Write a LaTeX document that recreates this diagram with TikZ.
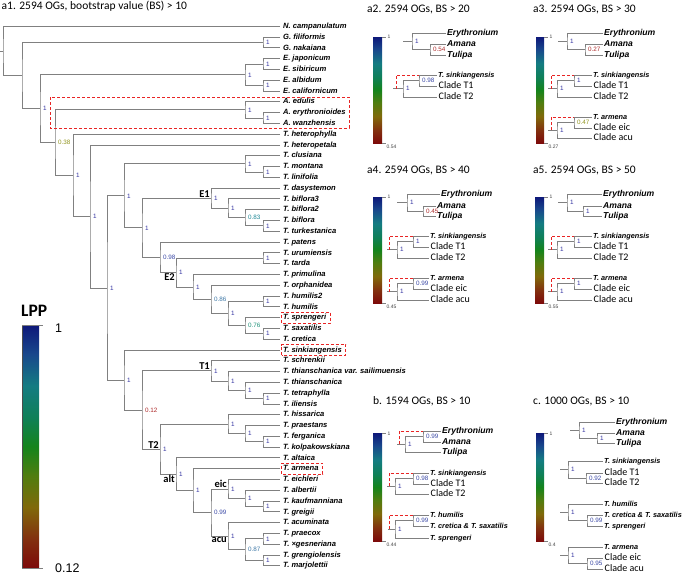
\documentclass[tikz,border=0pt]{standalone}
\usepackage{fontspec}
\setmainfont{Carlito}
\newfontfamily\arialfont{Liberation Sans}
\definecolor{brgray}{RGB}{128,128,128}
\definecolor{altred}{RGB}{232,36,36}
\definecolor{valone}{RGB}{50,50,160}
\definecolor{valhigh}{RGB}{58,72,165}
\definecolor{valmid}{RGB}{60,118,165}
\definecolor{valteal}{RGB}{30,135,150}
\definecolor{valgreen}{RGB}{30,145,120}
\definecolor{valolive}{RGB}{145,148,30}
\definecolor{vallow}{RGB}{172,40,40}
\definecolor{lppa}{RGB}{125,10,10}
\definecolor{lppb}{RGB}{130,48,15}
\definecolor{lppc}{RGB}{128,105,10}
\definecolor{lppd}{RGB}{80,125,15}
\definecolor{lppe}{RGB}{20,132,28}
\definecolor{lppf}{RGB}{15,128,88}
\definecolor{lppg}{RGB}{20,124,130}
\definecolor{lpph}{RGB}{25,72,140}
\definecolor{lppi}{RGB}{14,24,122}
\pgfdeclareverticalshading{lppshade}{100bp}{color(0bp)=(lppa); color(25bp)=(lppa); color(31bp)=(lppb); color(37.5bp)=(lppc); color(44bp)=(lppd); color(50bp)=(lppe); color(56bp)=(lppf); color(62.5bp)=(lppg); color(69bp)=(lpph); color(75bp)=(lppi); color(100bp)=(lppi)}
\begin{document}
\begin{tikzpicture}[x=1pt, y=-1pt,
    br/.style={draw=brgray, line width=1pt},
    altpath/.style={draw=altred, dash pattern=on 3pt off 2pt, line width=1pt},
    redbox/.style={draw=altred, dash pattern=on 3pt off 2pt, line width=1pt},
    leaf/.style={anchor=west, inner xsep=3pt, inner ysep=0.5pt, text height=5.8pt, text depth=1.6pt, font=\arialfont\bfseries\itshape\fontsize{7.6}{8}\selectfont},
    genus/.style={anchor=west, inner xsep=1pt, inner ysep=0.5pt, text height=6.4pt, text depth=1.8pt, font=\arialfont\bfseries\itshape\fontsize{8.6}{9}\selectfont},
    spc/.style={anchor=west, inner xsep=1pt, inner ysep=0.5pt, text height=5.5pt, text depth=1.5pt, font=\arialfont\bfseries\itshape\fontsize{7.3}{8}\selectfont},
    grp/.style={anchor=west, inner xsep=1.5pt, inner ysep=0.5pt, text height=6.6pt, text depth=1.6pt, font=\fontsize{10}{11}\selectfont},
    bs/.style={font=\arialfont\fontsize{6.3}{7}\selectfont, inner sep=0.5pt, xshift=2.5pt},
    clade/.style={font=\bfseries\fontsize{10.5}{12}\selectfont, inner sep=1pt},
    ttl/.style={anchor=base west, inner sep=0pt, font=\fontsize{11.5}{13}\selectfont},
    cbtick/.style={draw=gray, line width=0.8pt},
    ticklab/.style={anchor=west, inner sep=0.5pt, font=\arialfont\fontsize{5}{6}\selectfont, text=darkgray}]
  \useasboundingbox (0,0) rectangle (685,576);

  % a1: main tree
  \node[ttl] (ta1) at (1.5,9.5) {a1. 2594 OGs, bootstrap value (BS) > 10};
  \path[every node/.style=leaf]
    (280,26.3) node (ncam){N. campanulatum}
    (280,37.1) node (gfil){G. filiformis}
    (280,47.9) node (gnak){G. nakaiana}
    (280,58.7) node (ejap){E. japonicum}
    (280,69.5) node (esib){E. sibiricum}
    (280,80.2) node (ealb){E. albidum}
    (280,91.0) node (ecal){E. californicum}
    (280,101.8) node (aedu){A. edulis}
    (280,112.6) node (aery){A. erythronioides}
    (280,123.4) node (awan){A. wanzhensis}
    (280,134.2) node (thph){T. heterophylla}
    (280,145.0) node (thpt){T. heteropetala}
    (280,155.8) node (tclu){T. clusiana}
    (280,166.6) node (tmon){T. montana}
    (280,177.4) node (tlin){T. linifolia}
    (280,188.2) node (tdas){T. dasystemon}
    (280,198.9) node (tbi3){T. biflora3}
    (280,209.7) node (tbi2){T. biflora2}
    (280,220.5) node (tbif){T. biflora}
    (280,231.3) node (ttur){T. turkestanica}
    (280,242.1) node (tpat){T. patens}
    (280,252.9) node (turu){T. urumiensis}
    (280,263.7) node (ttar){T. tarda}
    (280,274.5) node (tpri){T. primulina}
    (280,285.3) node (torp){T. orphanidea}
    (280,296.1) node (thu2){T. humilis2}
    (280,306.9) node (thum){T. humilis}
    (280,317.6) node (tspr){T. sprengeri}
    (280,328.4) node (tsax){T. saxatilis}
    (280,339.2) node (tcre){T. cretica}
    (280,350.0) node (tsin){T. sinkiangensis}
    (280,360.8) node (tsch){T. schrenkii}
    (280,371.6) node (tthv){T. thianschanica var. sailimuensis}
    (280,382.4) node (tthi){T. thianschanica}
    (280,393.2) node (ttet){T. tetraphylla}
    (280,404.0) node (tili){T. iliensis}
    (280,414.8) node (thss){T. hissarica}
    (280,425.6) node (tpra){T. praestans}
    (280,436.3) node (tfer){T. ferganica}
    (280,447.1) node (tkol){T. kolpakowskiana}
    (280,457.9) node (talt){T. altaica}
    (280,468.7) node (tarm){T. armena}
    (280,479.5) node (teic){T. eichleri}
    (280,490.3) node (talb){T. albertii}
    (280,501.1) node (tkau){T. kaufmanniana}
    (280,511.9) node (tgre){T. greigii}
    (280,522.7) node (tacu){T. acuminata}
    (280,533.5) node (tpcx){T. praecox}
    (280,544.3) node (tges){T. ×gesneriana}
    (280,555.0) node (tgrg){T. grengiolensis}
    (280,565.8) node (tmar){T. marjolettii};

  \coordinate (rtstub) at (0,51.0);
  \coordinate (rt) at (3,51.0);
  \coordinate (n2) at (22,75.7);
  \coordinate[label={[bs,valone]right:1}] (gG) at (263,42.5);
  \coordinate[label={[bs,valone]right:1}] (n3) at (40,108.8);
  \coordinate[label={[bs,valone]right:1}] (eE) at (245,74.9);
  \coordinate[label={[bs,valone]right:1}] (e1) at (263,64.1);
  \coordinate[label={[bs,valone]right:1}] (e2) at (263,85.6);
  \coordinate[label={[bs,valolive]right:0.38}] (n4) at (55,142.7);
  \coordinate[label={[bs,valone]right:1}] (aA) at (245,109.9);
  \coordinate[label={[bs,valone]right:1}] (aEW) at (263,118.0);
  \coordinate[label={[bs,valone]right:1}] (n5) at (73,175.4);
  \coordinate[label={[bs,valone]right:1}] (n6) at (90,216.5);
  \coordinate[label={[bs,valone]right:1}] (n7) at (107,288.0);
  \coordinate[label={[bs,valone]right:1}] (n8) at (124,195.9);
  \coordinate[label={[bs,valone]right:1}] (cC) at (245,163.9);
  \coordinate[label={[bs,valone]right:1}] (cMl) at (263,172.0);
  \coordinate[label={[bs,valone]right:1}] (nEm) at (142,227.9);
  \coordinate[label={[bs,valone]right:1}] (E1) at (211,198.3);
  \coordinate[label={[bs,valone]right:1}] (b3) at (228,208.4);
  \coordinate[label={[bs,valteal]right:0.83}] (b2) at (245,217.8);
  \coordinate[label={[bs,valone]right:1}] (b2t) at (263,225.9);
  \coordinate[label={[bs,valhigh]right:0.98}] (pE2) at (160,257.4);
  \coordinate[label={[bs,valone]right:1}] (ut) at (263,258.3);
  \coordinate[label={[bs,valone]right:1}] (E2) at (176,272.6);
  \coordinate[label={[bs,valone]right:1}] (pr) at (193,287.0);
  \coordinate[label={[bs,valmid]right:0.86}] (orp) at (211,299.5);
  \coordinate[label={[bs,valone]right:1}] (hh) at (263,301.5);
  \coordinate[label={[bs,valone]right:1}] (hu) at (228,313.6);
  \coordinate[label={[bs,valgreen]right:0.76}] (sp) at (245,325.7);
  \coordinate[label={[bs,valone]right:1}] (sc) at (263,333.8);
  \coordinate[label={[bs,valone]right:1}] (nT) at (124,380.1);
  \coordinate[label={[bs,vallow]right:0.12}] (tm) at (142,410.1);
  \coordinate[label={[bs,valone]right:1}] (T1) at (211,370.9);
  \coordinate[label={[bs,valone]right:1}] (tv) at (228,381.0);
  \coordinate[label={[bs,valone]right:1}] (tt) at (245,390.5);
  \coordinate[label={[bs,valone]right:1}] (ti) at (263,398.6);
  \coordinate[label={[bs,valone]right:1}] (T2) at (160,449.3);
  \coordinate[label={[bs,valone]right:1}] (hs) at (228,424.2);
  \coordinate[label={[bs,valone]right:1}] (pf) at (245,433.7);
  \coordinate[label={[bs,valone]right:1}] (fk) at (263,441.7);
  \coordinate[label={[bs,valone]right:1}] (alt) at (176,474.3);
  \coordinate[label={[bs,valone]right:1}] (ar) at (193,490.7);
  \coordinate[label={[bs,valhigh]right:0.99}] (ea) at (211,512.6);
  \coordinate[label={[bs,valone]right:1}] (eic) at (228,489.0);
  \coordinate[label={[bs,valone]right:1}] (ak) at (245,498.4);
  \coordinate[label={[bs,valone]right:1}] (kg) at (263,506.5);
  \coordinate[label={[bs,valone]right:1}] (acu) at (228,536.2);
  \coordinate[label={[bs,valmid]right:0.87}] (pm) at (245,549.7);
  \coordinate[label={[bs,valone]right:1}] (pg) at (263,538.9);
  \coordinate[label={[bs,valone]right:1}] (gm) at (263,560.4);

  \begin{scope}[br]
    \draw (rtstub) -- (rt);
    \draw (ncam.west) -| (rt) |- (n2);
    \draw (gG) -| (n2) |- (n3);
    \draw (gfil.west) -| (gG) |- (gnak.west);
    \draw (eE) -| (n3) |- (n4);
    \draw (e1) -| (eE) |- (e2);
    \draw (ejap.west) -| (e1) |- (esib.west);
    \draw (ealb.west) -| (e2) |- (ecal.west);
    \draw (aA) -| (n4) |- (n5);
    \draw (aedu.west) -| (aA) |- (aEW);
    \draw (aery.west) -| (aEW) |- (awan.west);
    \draw (thph.west) -| (n5) |- (n6);
    \draw (thpt.west) -| (n6) |- (n7);
    \draw (n8) -| (n7) |- (nT);
    \draw (cC) -| (n8) |- (nEm);
    \draw (tclu.west) -| (cC) |- (cMl);
    \draw (tmon.west) -| (cMl) |- (tlin.west);
    \draw (E1) -| (nEm) |- (pE2);
    \draw (tdas.west) -| (E1) |- (b3);
    \draw (tbi3.west) -| (b3) |- (b2);
    \draw (tbi2.west) -| (b2) |- (b2t);
    \draw (tbif.west) -| (b2t) |- (ttur.west);
    \draw (tpat.west) -| (pE2) |- (E2);
    \draw (ut) -| (E2) |- (pr);
    \draw (turu.west) -| (ut) |- (ttar.west);
    \draw (tpri.west) -| (pr) |- (orp);
    \draw (torp.west) -| (orp) |- (hu);
    \draw (hh) -| (hu) |- (sp);
    \draw (thu2.west) -| (hh) |- (thum.west);
    \draw (tspr.west) -| (sp) |- (sc);
    \draw (tsax.west) -| (sc) |- (tcre.west);
    \draw (tsin.west) -| (nT) |- (tm);
    \draw (T1) -| (tm) |- (T2);
    \draw (tsch.west) -| (T1) |- (tv);
    \draw (tthv.west) -| (tv) |- (tt);
    \draw (tthi.west) -| (tt) |- (ti);
    \draw (ttet.west) -| (ti) |- (tili.west);
    \draw (hs) -| (T2) |- (alt);
    \draw (thss.west) -| (hs) |- (pf);
    \draw (tpra.west) -| (pf) |- (fk);
    \draw (tfer.west) -| (fk) |- (tkol.west);
    \draw (talt.west) -| (alt) |- (ar);
    \draw (tarm.west) -| (ar) |- (ea);
    \draw (eic) -| (ea) |- (acu);
    \draw (teic.west) -| (eic) |- (ak);
    \draw (talb.west) -| (ak) |- (kg);
    \draw (tkau.west) -| (kg) |- (tgre.west);
    \draw (tacu.west) -| (acu) |- (pm);
    \draw (pg) -| (pm) |- (gm);
    \draw (tpcx.west) -| (pg) |- (tges.west);
    \draw (tgrg.west) -| (gm) |- (tmar.west);
  \end{scope}

  \node[clade, anchor=south east] (lE1) at (E1) {E1};
  \node[clade, anchor=north east] (lE2) at (E2) {E2};
  \node[clade, anchor=south east] (lT1) at (T1) {T1};
  \node[clade, anchor=south east] (lT2) at (T2) {T2};
  \node[clade, anchor=north east] (lalt) at (alt) {alt};
  \node[clade, anchor=south east] (leic) at (eic) {eic};
  \node[clade, anchor=north east] (lacu) at (acu) {acu};

  \draw[redbox] (50,97) rectangle (349,128);
  \draw[redbox] ([xshift=1.5pt,yshift=-1pt]tspr.south west) rectangle ([xshift=1pt,yshift=1pt]tspr.north east);
  \draw[redbox] ([xshift=1.5pt,yshift=-1pt]tsin.south west) rectangle ([xshift=1pt,yshift=1pt]tsin.north east);
  \draw[redbox] ([xshift=1.5pt,yshift=-1pt]tarm.south west) rectangle ([xshift=1pt,yshift=1pt]tarm.north east);

  \node[anchor=base west, inner sep=0pt, font=\bfseries\fontsize{17.5}{18}\selectfont] (lpp) at (21,316.5) {LPP};
  \shade[shading=lppshade] (22,325) rectangle (39,568);
  \draw[gray!60!black, line width=0.8pt] (22,325) -- (22,568);
  \draw[cbtick] (22,325) -- (43,325) (22,568) -- (43,568);
  \node[anchor=west, inner sep=0pt, font=\arialfont\fontsize{12.5}{13}\selectfont] (lpphi) at (55,328) {1};
  \node[anchor=west, inner sep=0pt, font=\arialfont\fontsize{12.5}{13}\selectfont] (lpplo) at (55,568) {0.12};

  % a2
  \node[ttl] (ta2) at (367,12) {a2. 2594 OGs, BS > 20};
  \shade[shading=lppshade] (373,37) rectangle (382,143);
  \draw[cbtick] (382,37) -- (386,37) (382,143) -- (386,143);
  \node[ticklab] (a2hi) at (387,37) {1};
  \node[ticklab] (a2lo) at (386,147) {0.54};
  \path[every node/.style=genus]
    (446,33) node (a2ery){Erythronium}
    (446,44) node (a2ama){Amana}
    (446,55) node (a2tul){Tulipa};
  \coordinate (a2r1) at (403,41.3);
  \coordinate[label={[bs,valone]right:1}] (a2A1) at (412,41.3);
  \coordinate[label={[bs,vallow]right:0.54}] (a2B1) at (430,49.5);
  \draw[br] (a2r1) -- (a2A1);
  \draw[br] (a2ery.west) -| (a2A1) |- (a2B1);
  \draw[br] (a2ama.west) -| (a2B1) |- (a2tul.west);
  \path (437,75) node[spc] (a2sin){T. sinkiangensis}
    (437,86) node[grp] (a2t1){Clade T1}
    (437,97) node[grp] (a2t2){Clade T2};
  \coordinate (a2r2) at (393,88.8);
  \coordinate (a2d2) at (396,88.8);
  \coordinate[label={[bs,valone]right:1}] (a2A2) at (403,88.8);
  \coordinate[label={[bs,valhigh]right:0.98}] (a2B2) at (419,80.5);
  \draw[br] (a2r2) -- (a2A2);
  \draw[br] (a2B2) -| (a2A2) |- (a2t2.west);
  \draw[br] (a2sin.west) -| (a2B2) |- (a2t1.west);
  \draw[altpath] (a2d2) |- (a2B2 |- a2sin.west);

  % a3
  \node[ttl] (ta3) at (533,12) {a3. 2594 OGs, BS > 30};
  \shade[shading=lppshade] (536,37) rectangle (544,143);
  \draw[cbtick] (544,37) -- (548,37) (544,143) -- (548,143);
  \node[ticklab] (a3hi) at (549,37) {1};
  \node[ticklab] (a3lo) at (548,147) {0.27};
  \path[every node/.style=genus]
    (603,33) node (a3ery){Erythronium}
    (603,44) node (a3ama){Amana}
    (603,55) node (a3tul){Tulipa};
  \coordinate (a3r1) at (558,41.3);
  \coordinate[label={[bs,valone]right:1}] (a3A1) at (567,41.3);
  \coordinate[label={[bs,vallow]right:0.27}] (a3B1) at (585,49.5);
  \draw[br] (a3r1) -- (a3A1);
  \draw[br] (a3ery.west) -| (a3A1) |- (a3B1);
  \draw[br] (a3ama.west) -| (a3B1) |- (a3tul.west);
  \path (592,75) node[spc] (a3sin){T. sinkiangensis}
    (592,86) node[grp] (a3t1){Clade T1}
    (592,97) node[grp] (a3t2){Clade T2};
  \coordinate (a3r2) at (548,88.8);
  \coordinate (a3d2) at (551,88.8);
  \coordinate[label={[bs,valone]right:1}] (a3A2) at (557,88.8);
  \coordinate[label={[bs,valone]right:1}] (a3B2) at (574,80.5);
  \draw[br] (a3r2) -- (a3A2);
  \draw[br] (a3B2) -| (a3A2) |- (a3t2.west);
  \draw[br] (a3sin.west) -| (a3B2) |- (a3t1.west);
  \draw[altpath] (a3d2) |- (a3B2 |- a3sin.west);
  \path (592,117) node[spc] (a3arm){T. armena}
    (592,128) node[grp] (a3eic){Clade eic}
    (592,138) node[grp] (a3acu){Clade acu};
  \coordinate (a3r3) at (548,130.3);
  \coordinate (a3d3) at (551,130.3);
  \coordinate[label={[bs,valone]right:1}] (a3A3) at (557,130.3);
  \coordinate[label={[bs,valolive]right:0.47}] (a3B3) at (574,122.5);
  \draw[br] (a3r3) -- (a3A3);
  \draw[br] (a3B3) -| (a3A3) |- (a3acu.west);
  \draw[br] (a3arm.west) -| (a3B3) |- (a3eic.west);
  \draw[altpath] (a3d3) |- (a3B3 |- a3arm.west);

  % a4
  \node[ttl] (ta4) at (367,173) {a4. 2594 OGs, BS > 40};
  \shade[shading=lppshade] (373,197) rectangle (382,303);
  \draw[cbtick] (382,197) -- (386,197) (382,303) -- (386,303);
  \node[ticklab] (a4hi) at (387,197) {1};
  \node[ticklab] (a4lo) at (386,307) {0.45};
  \path[every node/.style=genus]
    (440,194) node (a4ery){Erythronium}
    (436,206) node (a4ama){Amana}
    (436,216) node (a4tul){Tulipa};
  \coordinate (a4r1) at (397,202.5);
  \coordinate[label={[bs,valone]right:1}] (a4A1) at (407,202.5);
  \coordinate[label={[bs,vallow]right:0.45}] (a4B1) at (423,211);
  \draw[br] (a4r1) -- (a4A1);
  \draw[br] (a4ery.west) -| (a4A1) |- (a4B1);
  \draw[br] (a4ama.west) -| (a4B1) |- (a4tul.west);
  \path (429,236) node[spc] (a4sin){T. sinkiangensis}
    (429,247) node[grp] (a4t1){Clade T1}
    (429,258) node[grp] (a4t2){Clade T2};
  \coordinate (a4r2) at (387,249.8);
  \coordinate (a4d2) at (389,249.8);
  \coordinate[label={[bs,valone]right:1}] (a4A2) at (397,249.8);
  \coordinate[label={[bs,valone]right:1}] (a4B2) at (413,241.5);
  \draw[br] (a4r2) -- (a4A2);
  \draw[br] (a4B2) -| (a4A2) |- (a4t2.west);
  \draw[br] (a4sin.west) -| (a4B2) |- (a4t1.west);
  \draw[altpath] (a4d2) |- (a4B2 |- a4sin.west);
  \path (429,278) node[spc] (a4arm){T. armena}
    (429,289) node[grp] (a4eic){Clade eic}
    (429,300) node[grp] (a4acu){Clade acu};
  \coordinate (a4r3) at (387,291.8);
  \coordinate (a4d3) at (389,291.8);
  \coordinate[label={[bs,valone]right:1}] (a4A3) at (397,291.8);
  \coordinate[label={[bs,valhigh]right:0.99}] (a4B3) at (413,283.5);
  \draw[br] (a4r3) -- (a4A3);
  \draw[br] (a4B3) -| (a4A3) |- (a4acu.west);
  \draw[br] (a4arm.west) -| (a4B3) |- (a4eic.west);
  \draw[altpath] (a4d3) |- (a4B3 |- a4arm.west);

  % a5
  \node[ttl] (ta5) at (533,173) {a5. 2594 OGs, BS > 50};
  \shade[shading=lppshade] (535,197) rectangle (544,303);
  \draw[cbtick] (544,197) -- (548,197) (544,303) -- (548,303);
  \node[ticklab] (a5hi) at (549,197) {1};
  \node[ticklab] (a5lo) at (548,307) {0.55};
  \path[every node/.style=genus]
    (602,194) node (a5ery){Erythronium}
    (602,206) node (a5ama){Amana}
    (602,216) node (a5tul){Tulipa};
  \coordinate (a5r1) at (558,202.5);
  \coordinate[label={[bs,valone]right:1}] (a5A1) at (567,202.5);
  \coordinate[label={[bs,valone]right:1}] (a5B1) at (583,211);
  \draw[br] (a5r1) -- (a5A1);
  \draw[br] (a5ery.west) -| (a5A1) |- (a5B1);
  \draw[br] (a5ama.west) -| (a5B1) |- (a5tul.west);
  \path (592,236) node[spc] (a5sin){T. sinkiangensis}
    (592,247) node[grp] (a5t1){Clade T1}
    (592,258) node[grp] (a5t2){Clade T2};
  \coordinate (a5r2) at (548,249.8);
  \coordinate (a5d2) at (551,249.8);
  \coordinate[label={[bs,valone]right:1}] (a5A2) at (557,249.8);
  \coordinate[label={[bs,valone]right:1}] (a5B2) at (574,241.5);
  \draw[br] (a5r2) -- (a5A2);
  \draw[br] (a5B2) -| (a5A2) |- (a5t2.west);
  \draw[br] (a5sin.west) -| (a5B2) |- (a5t1.west);
  \draw[altpath] (a5d2) |- (a5B2 |- a5sin.west);
  \path (592,278) node[spc] (a5arm){T. armena}
    (592,289) node[grp] (a5eic){Clade eic}
    (592,300) node[grp] (a5acu){Clade acu};
  \coordinate (a5r3) at (548,291.8);
  \coordinate (a5d3) at (551,291.8);
  \coordinate[label={[bs,valone]right:1}] (a5A3) at (557,291.8);
  \coordinate[label={[bs,valone]right:1}] (a5B3) at (574,283.5);
  \draw[br] (a5r3) -- (a5A3);
  \draw[br] (a5B3) -| (a5A3) |- (a5acu.west);
  \draw[br] (a5arm.west) -| (a5B3) |- (a5eic.west);
  \draw[altpath] (a5d3) |- (a5B3 |- a5arm.west);

  % b
  \node[ttl] (tb) at (373,404) {b. 1594 OGs, BS > 10};
  \shade[shading=lppshade] (373,433) rectangle (382,541);
  \draw[cbtick] (382,433) -- (386,433) (382,541) -- (386,541);
  \node[ticklab] (pbhi) at (387,434) {1};
  \node[ticklab] (pblo) at (386,545) {0.44};
  \path[every node/.style=genus]
    (441,431) node (pbery){Erythronium}
    (441,442) node (pbama){Amana}
    (441,452) node (pbtul){Tulipa};
  \coordinate (pbr1) at (397,444.3);
  \coordinate (pbd1) at (399,444.3);
  \coordinate[label={[bs,valone]right:1}] (pbA1) at (405,444.3);
  \coordinate[label={[bs,valhigh]right:0.99}] (pbB1) at (423,436.5);
  \draw[br] (pbr1) -- (pbA1);
  \draw[br] (pbB1) -| (pbA1) |- (pbtul.west);
  \draw[br] (pbery.west) -| (pbB1) |- (pbama.west);
  \draw[altpath] (pbd1) |- (pbB1 |- pbery.west);
  \path (429,473) node[spc] (pbsin){T. sinkiangensis}
    (429,484) node[grp] (pbt1){Clade T1}
    (429,494) node[grp] (pbt2){Clade T2};
  \coordinate (pbr2) at (387,486.3);
  \coordinate (pbd2) at (389,486.3);
  \coordinate[label={[bs,valone]right:1}] (pbA2) at (395,486.3);
  \coordinate[label={[bs,valhigh]right:0.98}] (pbB2) at (413,478.5);
  \draw[br] (pbr2) -- (pbA2);
  \draw[br] (pbB2) -| (pbA2) |- (pbt2.west);
  \draw[br] (pbsin.west) -| (pbB2) |- (pbt1.west);
  \draw[altpath] (pbd2) |- (pbB2 |- pbsin.west);
  \path[every node/.style=spc]
    (429,515) node (pbhum){T. humilis}
    (429,526.5) node (pbcre){T. cretica \& T. saxatilis}
    (429,538) node (pbspr){T. sprengeri};
  \coordinate (pbr3) at (388,529.4);
  \coordinate (pbd3) at (389,529.4);
  \coordinate[label={[bs,valone]right:1}] (pbA3) at (395,529.4);
  \coordinate[label={[bs,valhigh]right:0.99}] (pbB3) at (413,520.8);
  \draw[br] (pbr3) -- (pbA3);
  \draw[br] (pbB3) -| (pbA3) |- (pbspr.west);
  \draw[br] (pbhum.west) -| (pbB3) |- (pbcre.west);
  \draw[altpath] (pbd3) |- (pbB3 |- pbhum.west);

  % c
  \node[ttl] (tc) at (533,404) {c. 1000 OGs, BS > 10};
  \shade[shading=lppshade] (536,433) rectangle (544,541);
  \draw[cbtick] (544,433) -- (548,433) (544,541) -- (548,541);
  \node[ticklab] (pchi) at (549,434) {1};
  \node[ticklab] (pclo) at (548,545) {0.4};
  \path[every node/.style=genus]
    (615,422) node (pcery){Erythronium}
    (615,433) node (pcama){Amana}
    (615,443) node (pctul){Tulipa};
  \coordinate (pcr1) at (570,430);
  \coordinate[label={[bs,valone]right:1}] (pcA1) at (579,430);
  \coordinate[label={[bs,valone]right:1}] (pcB1) at (597,438);
  \draw[br] (pcr1) -- (pcA1);
  \draw[br] (pcery.west) -| (pcA1) |- (pcB1);
  \draw[br] (pcama.west) -| (pcB1) |- (pctul.west);
  \path (603,461) node[spc] (pcsin){T. sinkiangensis}
    (603,473) node[grp] (pct1){Clade T1}
    (603,483) node[grp] (pct2){Clade T2};
  \coordinate (pcr2) at (560,469.5);
  \coordinate[label={[bs,valone]right:1}] (pcA2) at (568,469.5);
  \coordinate[label={[bs,valhigh]right:0.92}] (pcB2) at (586,478);
  \draw[br] (pcr2) -- (pcA2);
  \draw[br] (pcsin.west) -| (pcA2) |- (pcB2);
  \draw[br] (pct1.west) -| (pcB2) |- (pct2.west);
  \path[every node/.style=spc]
    (603,504) node (pchum){T. humilis}
    (603,515) node (pccre){T. cretica \& T. saxatilis}
    (603,526) node (pcspr){T. sprengeri};
  \coordinate (pcr3) at (560,512.3);
  \coordinate[label={[bs,valone]right:1}] (pcA3) at (568,512.3);
  \coordinate[label={[bs,valhigh]right:0.99}] (pcB3) at (587,520.5);
  \draw[br] (pcr3) -- (pcA3);
  \draw[br] (pchum.west) -| (pcA3) |- (pcB3);
  \draw[br] (pccre.west) -| (pcB3) |- (pcspr.west);
  \path (603,547) node[spc] (pcarm){T. armena}
    (603,558) node[grp] (pceic){Clade eic}
    (603,569) node[grp] (pcacu){Clade acu};
  \coordinate (pcr4) at (560,555.3);
  \coordinate[label={[bs,valone]right:1}] (pcA4) at (568,555.3);
  \coordinate[label={[bs,valhigh]right:0.95}] (pcB4) at (587,563.5);
  \draw[br] (pcr4) -- (pcA4);
  \draw[br] (pcarm.west) -| (pcA4) |- (pcB4);
  \draw[br] (pceic.west) -| (pcB4) |- (pcacu.west);
\end{tikzpicture}
\end{document}
